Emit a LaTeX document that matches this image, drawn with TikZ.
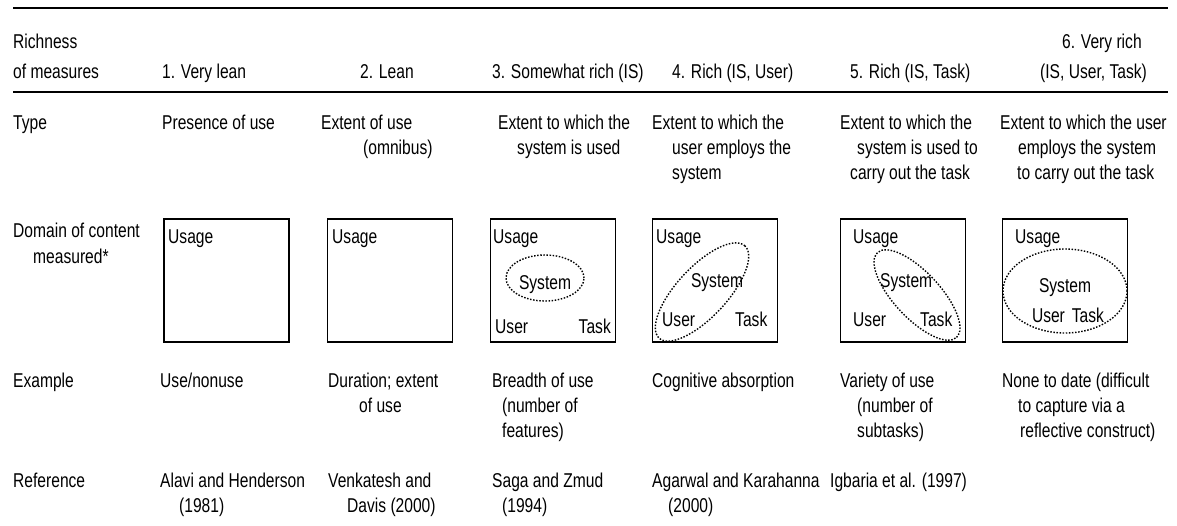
\documentclass[tikz,border=0pt]{standalone}
\usepackage{fontspec}
\setmainfont{Liberation Sans}[FakeStretch=0.78]
\usetikzlibrary{shapes.geometric}
\begin{document}
\begin{tikzpicture}[x=1pt,y=-1pt,
  t/.style={anchor=base west, inner sep=0pt, font=\fontsize{20}{24}\selectfont},
  tc/.style={t, anchor=base},
  te/.style={t, anchor=base east},
  rule/.style={line width=2.8pt},
  box/.style={draw, line width=1.8pt, minimum width=125pt, minimum height=123pt, inner sep=0pt},
  ell/.style={draw, ellipse, line width=1.4pt, dash pattern=on 1.5pt off 1.6pt, inner sep=0pt}]
\useasboundingbox (0,0) rectangle (1177,525);
% rules
\coordinate (r1a) at (13,8);  \coordinate (r1b) at (1168,8);
\coordinate (r2a) at (13,92); \coordinate (r2b) at (1168,92);
\draw[rule] (r1a) -- (r1b);
\draw[rule, line width=2.4pt] (r2a) -- (r2b);
% header
\node[t] (h0a) at (13,48) {Richness};
\node[t] (h0b) at (13,78) {of measures};
\node[t] (h1) at (162,78) {1. Very lean};
\node[t] (h2) at (360,78) {2. Lean};
\node[t] (h3) at (492,78) {3. Somewhat rich (IS)};
\node[t] (h4) at (672,78) {4. Rich (IS, User)};
\node[t] (h5) at (850,78) {5. Rich (IS, Task)};
\node[t] (h6a) at (1062,48) {6. Very rich};
\node[t] (h6b) at (1040,78) {(IS, User, Task)};
% type row
\node[t] (ty0) at (13,129) {Type};
\node[t] (ty1) at (162,129) {Presence of use};
\node[t] (ty2a) at (321,129) {Extent of use};
\node[t] (ty2b) at (363,154) {(omnibus)};
\node[t] (ty3a) at (498,129) {Extent to which the};
\node[t] (ty3b) at (517,154) {system is used};
\node[t] (ty4a) at (652,129) {Extent to which the};
\node[t] (ty4b) at (672,154) {user employs the};
\node[t] (ty4c) at (672,179) {system};
\node[t] (ty5a) at (840,129) {Extent to which the};
\node[t] (ty5b) at (857,154) {system is used to};
\node[t] (ty5c) at (850,179) {carry out the task};
\node[t] (ty6a) at (1000,129) {Extent to which the user};
\node[t] (ty6b) at (1018,154) {employs the system};
\node[t] (ty6c) at (1017,179) {to carry out the task};
% domain row
\node[t] (d0a) at (13,237) {Domain of content};
\node[t] (d0b) at (33,263) {measured*};
\node[box] (b1) at (226.5,280.5) {};
\node[box] (b2) at (390,280.5) {};
\node[box] (b3) at (553,280.5) {};
\node[box] (b4) at (715,280.5) {};
\node[box] (b5) at (903,280.5) {};
\node[box] (b6) at (1065,280.5) {};
\node[t] (u1) at (168,243) {Usage};
\node[t] (u2) at (332,243) {Usage};
\node[t] (u3) at (493,243) {Usage};
\node[t] (u4) at (656,243) {Usage};
\node[t] (u5) at (853,243) {Usage};
\node[t] (u6) at (1015,243) {Usage};
% box 3
\node[ell, minimum width=78pt, minimum height=46pt] (e3) at (545,278) {};
\node[tc] (s3) at (545,289) {System};
\node[t] (us3) at (495,333) {User};
\node[te] (tk3) at (611,333) {Task};
% box 4
\node[ell, minimum width=126pt, minimum height=50pt, rotate=47] (e4) at (702,292) {};
\node[tc] (s4) at (717,287) {System};
\node[t] (us4) at (662,326) {User};
\node[t] (tk4) at (735,326) {Task};
% box 5
\node[ell, minimum width=116pt, minimum height=46pt, rotate=-47] (e5) at (917,295) {};
\node[t] (s5) at (880,287) {System};
\node[t] (us5) at (853,326) {User};
\node[t] (tk5) at (920,326) {Task};
% box 6
\node[ell, minimum width=124pt, minimum height=84pt] (e6) at (1065,291) {};
\node[tc] (s6) at (1065,292) {System};
\node[tc] (ut6) at (1068,322) {User\hspace{7pt}Task};
% example row
\node[t] (ex0) at (13,387) {Example};
\node[t] (ex1) at (160,387) {Use/nonuse};
\node[t] (ex2a) at (328,387) {Duration; extent};
\node[t] (ex2b) at (359,412) {of use};
\node[t] (ex3a) at (492,387) {Breadth of use};
\node[t] (ex3b) at (502,412) {(number of};
\node[t] (ex3c) at (502,437) {features)};
\node[t] (ex4) at (652,387) {Cognitive absorption};
\node[t] (ex5a) at (840,387) {Variety of use};
\node[t] (ex5b) at (857,412) {(number of};
\node[t] (ex5c) at (857,437) {subtasks)};
\node[t] (ex6a) at (1002,387) {None to date (difficult};
\node[t] (ex6b) at (1018,412) {to capture via a};
\node[t] (ex6c) at (1020,437) {reflective construct)};
% reference row
\node[t] (rf0) at (13,487) {Reference};
\node[t] (rf1a) at (160,487) {Alavi and Henderson};
\node[t] (rf1b) at (179,512) {(1981)};
\node[t] (rf2a) at (328,487) {Venkatesh and};
\node[t] (rf2b) at (347,512) {Davis (2000)};
\node[t] (rf3a) at (492,487) {Saga and Zmud};
\node[t] (rf3b) at (502,512) {(1994)};
\node[t] (rf4a) at (652,487) {Agarwal and Karahanna};
\node[t] (rf4b) at (668,512) {(2000)};
\node[t] (rf5) at (830,487) {Igbaria et al. (1997)};
\end{tikzpicture}
\end{document}
